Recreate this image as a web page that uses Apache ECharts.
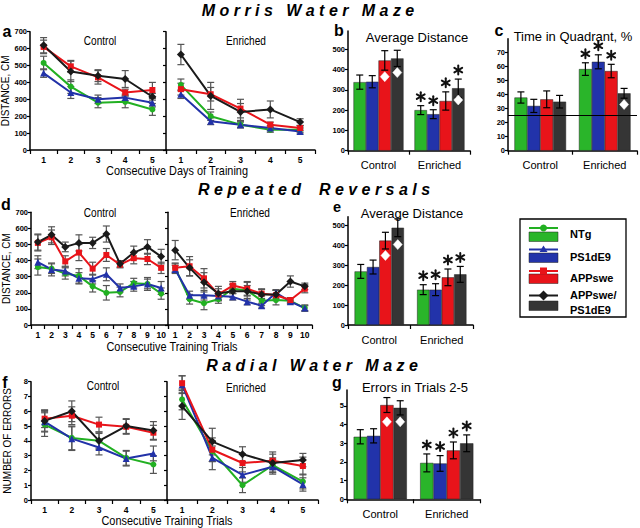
<!DOCTYPE html>
<html><head><meta charset="utf-8">
<script src="https://cdn.jsdelivr.net/npm/echarts@6/dist/echarts.min.js"></script>
<style>html,body{margin:0;padding:0;background:#fff}#c{width:640px;height:528px}</style>
</head><body><div id="c"></div>
<script>
// ---------- data ----------
const groupNames = ['NTg', 'PS1dE9', 'APPswe', 'APPswe/PS1dE9'];
const conditions = ['Control', 'Enriched'];
const daysA = ['1', '2', '3', '4', '5'];
const trialsD = ['1', '2', '3', '4', '5', '6', '7', '8', '9', '10'];
const trialsF = ['1', '2', '3', '4', '5'];

// panel a (rows: NTg, PS1dE9, APPswe, APPswe/PS1dE9)
const aCtrlMean = [[515, 375, 280, 285, 240], [455, 340, 300, 310, 280], [610, 495, 430, 340, 355], [620, 465, 440, 420, 315]];
const aCtrlErr  = [[40, 40, 30, 35, 35], [25, 35, 25, 20, 25], [40, 35, 40, 20, 45], [45, 60, 35, 50, 20]];
const aEnrMean  = [[385, 200, 150, 120, 120], [330, 170, 150, 130, 110], [360, 330, 245, 150, 130], [565, 320, 225, 240, 165]];
const aEnrErr   = [[35, 25, 20, 15, 15], [25, 20, 15, 15, 15], [35, 40, 55, 15, 15], [60, 80, 50, 50, 20]];

// panel b (per group: [Control, Enriched])
const bMean = [[338, 200], [340, 180], [445, 245], [455, 308]];
const bErr  = [[35, 22], [30, 22], [48, 45], [40, 45]];
const bStar = [[0, 1], [0, 1], [0, 1], [0, 1]];
const bDiamond = [[0, 2, 365], [0, 3, 385], [1, 3, 250]]; // [condition, group, value]

// panel c
const cMean = [[38, 58.3], [32, 63.5], [36.7, 56.9], [35, 41]];
const cErr  = [[4, 4.5], [4.7, 5], [6, 4.8], [4.5, 3.5]];
const cStar = [[0, 1], [0, 1], [0, 1], [0, 0]];
const cDiamond = [[1, 3, 33]];
const chanceLevel = 25;

// panel d
const dCtrlMean = [[360, 350, 320, 305, 240, 200, 205, 260, 255, 195],
                   [390, 345, 335, 290, 285, 315, 230, 240, 255, 230],
                   [510, 545, 395, 450, 350, 435, 375, 415, 410, 355],
                   [515, 560, 485, 510, 510, 565, 380, 450, 485, 425]];
const dCtrlErr  = [[50, 30, 35, 45, 35, 45, 30, 30, 30, 35],
                   [40, 40, 30, 35, 30, 40, 25, 30, 40, 40],
                   [50, 45, 35, 50, 40, 40, 20, 35, 35, 35],
                   [50, 50, 30, 50, 35, 50, 20, 40, 45, 45]];
const dEnrMean  = [[355, 160, 135, 160, 225, 215, 150, 155, 150, 105],
                   [345, 185, 185, 180, 175, 145, 120, 200, 145, 105],
                   [355, 365, 290, 190, 245, 225, 195, 185, 155, 225],
                   [465, 355, 265, 195, 210, 210, 190, 190, 270, 240]];
const dEnrErr   = [[25, 30, 40, 25, 30, 30, 30, 30, 20, 15],
                   [25, 25, 30, 25, 20, 20, 15, 20, 10, 20],
                   [30, 60, 60, 35, 25, 45, 30, 30, 15, 25],
                   [60, 50, 60, 45, 40, 55, 30, 25, 35, 20]];

// panel e
const eMean = [[270, 178], [292, 178], [425, 240], [490, 255]];
const eErr  = [[35, 25], [35, 30], [42, 42], [45, 40]];
const eStar = [[0, 1], [0, 1], [0, 1], [0, 1]];
const eDiamond = [[0, 2, 350], [0, 3, 405]];

// panel f
const fCtrlMean = [[5.1, 4.2, 4.0, 2.85, 2.4], [5.3, 4.15, 3.55, 2.8, 3.15], [5.5, 5.7, 5.1, 4.95, 4.55], [5.35, 6.0, 4.0, 5.0, 4.7]];
const fCtrlErr  = [[0.8, 0.8, 0.6, 0.5, 0.6], [0.7, 0.8, 0.5, 0.5, 0.5], [0.6, 0.6, 0.5, 0.5, 0.5], [0.7, 0.7, 0.5, 0.5, 0.6]];
const fEnrMean  = [[6.8, 3.3, 1.0, 2.35, 1.25], [7.8, 2.85, 1.7, 2.25, 1.05], [7.9, 3.4, 2.5, 2.65, 2.3], [6.35, 3.95, 3.1, 2.5, 2.7]];
const fEnrErr   = [[0.7, 0.7, 0.5, 0.5, 0.5], [0.6, 0.8, 0.5, 0.5, 0.45], [0.5, 0.8, 0.6, 0.6, 0.6], [0.9, 0.9, 0.5, 0.6, 0.45]];

// panel g
const gMean = [[3.35, 1.95], [3.4, 1.92], [5.05, 2.62], [4.9, 3.0]];
const gErr  = [[0.38, 0.48], [0.38, 0.42], [0.4, 0.45], [0.38, 0.45]];
const gStar = [[0, 1], [0, 1], [0, 1], [0, 1]];
const gDiamond = [[0, 2, 4.15], [0, 3, 4.15]];

// ---------- styles ----------
const LINE_COLORS = ['#22b022', '#2232a8', '#e8141a', '#1a1a1a'];
const BAR_COLORS = ['#2ab52a', '#2233aa', '#e8141a', '#353535'];
const SYMBOLS = ['circle', 'triangle', 'rect', 'diamond'];
const SYMSIZE = [6, 7, 6, 8];
const FONT = '"Liberation Sans", Arial, sans-serif';

const grids = [
  {left: 30, top: 31.7, width: 136, height: 118.3},   // 0 a ctrl
  {left: 166, top: 31.7, width: 149, height: 118.3},  // 1 a enr
  {left: 348, top: 31, width: 122, height: 119.7},    // 2 b
  {left: 508, top: 38.7, width: 129, height: 112},    // 3 c
  {left: 31, top: 212.3, width: 137, height: 112.7},  // 4 d ctrl
  {left: 168, top: 212.3, width: 144, height: 112.7}, // 5 d enr
  {left: 348, top: 216.8, width: 125, height: 108.2}, // 6 e
  {left: 31, top: 381.7, width: 136, height: 118.3},  // 7 f ctrl
  {left: 167, top: 381.7, width: 151, height: 118.3}, // 8 f enr
  {left: 347, top: 390.1, width: 133, height: 109.2}  // 9 g
].map(g => Object.assign({containLabel: false, outerBoundsMode: 'none'}, g));

function xCat(gi, data, isBar) {
  return {
    type: 'category', gridIndex: gi, data: data, boundaryGap: true,
    axisLine: {show: true, onZero: false, lineStyle: {color: '#000', width: 1.5}},
    axisTick: {show: true, length: 4, interval: 0, lineStyle: {color: '#000', width: 1.2}},
    axisLabel: isBar
      ? {show: true, color: '#000', fontSize: 11, fontFamily: FONT, margin: 9, interval: 0}
      : {show: true, color: '#000', fontSize: 8.5, fontWeight: 'bold', fontFamily: FONT, margin: 5, interval: 0},
    splitLine: {show: false}
  };
}
function yVal(gi, max, interval, showLabels, name, hideMax) {
  return {
    type: 'value', gridIndex: gi, min: 0, max: max, interval: interval,
    name: name || '', nameLocation: 'middle', nameGap: 19, nameRotate: 90,
    nameTextStyle: {color: '#000', fontSize: 10, fontFamily: FONT},
    axisLine: {show: true, onZero: false, lineStyle: {color: '#000', width: 1.5}},
    axisTick: {show: true, length: 3, lineStyle: {color: '#000', width: 1.2}},
    axisLabel: {show: showLabels, color: '#000', fontSize: 7.5, fontWeight: 'bold', fontFamily: FONT, margin: 3,
                showMaxLabel: !hideMax},
    splitLine: {show: false}
  };
}

const xAxes = [
  xCat(0, daysA), xCat(1, daysA), xCat(2, conditions, true), xCat(3, conditions, true),
  xCat(4, trialsD), xCat(5, trialsD), xCat(6, conditions, true),
  xCat(7, trialsF), xCat(8, trialsF), xCat(9, conditions, true)
];
const yAxes = [
  yVal(0, 700, 100, true, 'DISTANCE, CM'), yVal(1, 700, 100, false),
  yVal(2, 590, 100, true, '', true), yVal(3, 80, 10, true, '', true),
  yVal(4, 700, 100, true, 'DISTANCE, CM'), yVal(5, 700, 100, false),
  yVal(6, 545, 100, true, '', true),
  yVal(7, 8, 1, true, 'NUMBER OF ERRORS'), yVal(8, 8, 1, false),
  yVal(9, 5.85, 1, true, '', true)
];

const series = [];
function lineErr(params, api) {
  const x = api.value(0), m = api.value(1), e = api.value(2);
  const t = api.coord([x, m + e]), b = api.coord([x, m - e]);
  const w = 3.5, st = {stroke: '#555', lineWidth: 1.2};
  return {type: 'group', children: [
    {type: 'line', shape: {x1: t[0], y1: t[1], x2: b[0], y2: b[1]}, style: st},
    {type: 'line', shape: {x1: t[0] - w, y1: t[1], x2: t[0] + w, y2: t[1]}, style: st},
    {type: 'line', shape: {x1: b[0] - w, y1: b[1], x2: b[0] + w, y2: b[1]}, style: st}
  ]};
}
function addLinePanel(gi, means, errs) {
  means.forEach((m, k) => {
    series.push({type: 'custom', xAxisIndex: gi, yAxisIndex: gi, z: 2, silent: true,
      data: m.map((v, i) => [i, v, errs[k][i]]), renderItem: lineErr});
  });
  means.forEach((m, k) => {
    series.push({type: 'line', name: groupNames[k], xAxisIndex: gi, yAxisIndex: gi, z: 3,
      data: m, symbol: SYMBOLS[k], symbolSize: SYMSIZE[k], showSymbol: true,
      lineStyle: {color: LINE_COLORS[k], width: 2}, itemStyle: {color: LINE_COLORS[k]}});
  });
}
function star(cx, cy) {
  const r = 4.5, st = {stroke: '#111', lineWidth: 2, lineCap: 'round'};
  const out = [];
  for (let a = 0; a < 3; a++) {
    const ang = Math.PI / 2 + a * Math.PI / 3;
    const dx = r * Math.cos(ang), dy = r * Math.sin(ang);
    out.push({type: 'line', shape: {x1: cx - dx, y1: cy - dy, x2: cx + dx, y2: cy + dy}, style: st});
  }
  return out;
}
function addBarPanel(gi, means, errs, stars, diamonds, gap, markLine) {
  means.forEach((m, k) => {
    const s = {type: 'bar', name: groupNames[k], xAxisIndex: gi, yAxisIndex: gi, data: m, z: 2,
      barGap: '0%', barCategoryGap: (gap * 100) + '%',
      itemStyle: {color: BAR_COLORS[k], borderColor: '#222', borderWidth: 0.5}};
    if (k === 0 && markLine) s.markLine = markLine;
    series.push(s);
  });
  means.forEach((m, k) => {
    series.push({type: 'custom', xAxisIndex: gi, yAxisIndex: gi, z: 5, silent: true,
      data: m.map((v, g) => [g, v, errs[k][g], stars[k][g]]),
      renderItem: function (params, api) {
        const g = api.value(0), mv = api.value(1), e = api.value(2), s = api.value(3);
        const band = api.size([1, 0])[0];
        const bw = band * (1 - gap) / 4;
        const cx = api.coord([g, mv])[0] + (k - 1.5) * bw;
        const yt = api.coord([g, mv + e])[1], yb = api.coord([g, mv - e])[1];
        const w = 3.5, st = {stroke: '#000', lineWidth: 1.2};
        let ch = [
          {type: 'line', shape: {x1: cx, y1: yt, x2: cx, y2: yb}, style: st},
          {type: 'line', shape: {x1: cx - w, y1: yt, x2: cx + w, y2: yt}, style: st},
          {type: 'line', shape: {x1: cx - w, y1: yb, x2: cx + w, y2: yb}, style: st}
        ];
        if (s) ch = ch.concat(star(cx, yt - 9));
        return {type: 'group', children: ch};
      }});
  });
  series.push({type: 'custom', xAxisIndex: gi, yAxisIndex: gi, z: 6, silent: true,
    data: diamonds.map(d => [d[0], d[2], d[1]]),
    renderItem: function (params, api) {
      const g = api.value(0), v = api.value(1), k = api.value(2);
      const band = api.size([1, 0])[0];
      const bw = band * (1 - gap) / 4;
      const p = api.coord([g, v]);
      const cx = p[0] + (k - 1.5) * bw, cy = p[1];
      return {type: 'polygon', shape: {points: [[cx, cy - 5], [cx + 4.5, cy], [cx, cy + 5], [cx - 4.5, cy]]},
        style: {fill: '#fff', stroke: '#fff', lineWidth: 0.5}};
    }});
}

addLinePanel(0, aCtrlMean, aCtrlErr);
addLinePanel(1, aEnrMean, aEnrErr);
addBarPanel(2, bMean, bErr, bStar, bDiamond, 0.18);
addBarPanel(3, cMean, cErr, cStar, cDiamond, 0.2, {
  silent: true, symbol: 'none', label: {show: false},
  lineStyle: {color: '#000', width: 1.2, type: 'solid'}, data: [{yAxis: chanceLevel}]
});
addLinePanel(4, dCtrlMean, dCtrlErr);
addLinePanel(5, dEnrMean, dEnrErr);
addBarPanel(6, eMean, eErr, eStar, eDiamond, 0.21);
addLinePanel(7, fCtrlMean, fCtrlErr);
addLinePanel(8, fEnrMean, fEnrErr);
addBarPanel(9, gMean, gErr, gStar, gDiamond, 0.2);

// ---------- texts ----------
function txt(text, x, y, size, opts) {
  opts = opts || {};
  return {type: 'text', x: x, y: y, silent: true, z: 10, scaleX: opts.sx || 1,
    style: {text: text, fill: '#000', fontSize: size, fontFamily: FONT,
      fontWeight: opts.weight || 'normal', fontStyle: opts.style || 'normal',
      align: opts.align || 'center', verticalAlign: 'middle'}};
}
const secOpts = {weight: 'bold', style: 'italic'};
const nar = {sx: 0.84};
const graphics = [
  txt('M o r r i s   W a t e r   M a z e', 308, 10, 16, secOpts),
  txt('R e p e a t e d    R e v e r s a l s', 314, 189.5, 16, secOpts),
  txt('R a d i a l   W a t e r   M a z e', 312, 365, 16, secOpts),
  txt('a', 7, 31, 16, {weight: 'bold'}),
  txt('b', 339, 30, 16, {weight: 'bold'}),
  txt('c', 499, 30, 16, {weight: 'bold'}),
  txt('d', 6, 204, 16, {weight: 'bold'}),
  txt('e', 337, 206.5, 14.5, {weight: 'bold'}),
  txt('f', 5, 382, 16, {weight: 'bold'}),
  txt('g', 337, 382, 16, {weight: 'bold'}),
  txt('Control', 100, 41, 12, nar),
  txt('Enriched', 246, 41, 12, nar),
  txt('Control', 100, 213, 12, nar),
  txt('Enriched', 250, 213, 12, nar),
  txt('Control', 103, 386, 12, nar),
  txt('Enriched', 246, 388, 12, nar),
  txt('Consecutive Days of Training', 177, 171, 13, nar),
  txt('Consecutive Training Trials', 172, 346.5, 13, nar),
  txt('Consecutive Training Trials', 167, 521, 13, nar),
  txt('Average Distance', 417, 37, 13),
  txt('Time in Quadrant, %', 573, 36, 13),
  txt('Average Distance', 412, 213, 13),
  txt('Errors in Trials 2-5', 415, 387, 13)
];

// legend box
graphics.push({type: 'rect', shape: {x: 520, y: 219, width: 106, height: 98}, silent: true, z: 10,
  style: {fill: '#fff', stroke: '#000', lineWidth: 1.3}});
const legLineY = [228, 249.5, 271, 295.5];
const legPatchY = [232, 253, 274, 301];
groupNames.forEach((n, k) => {
  const x0 = 529, x1 = 558, cx = (x0 + x1) / 2, y = legLineY[k];
  graphics.push({type: 'rect', z: 11, silent: true, shape: {x: x0, y: legPatchY[k], width: x1 - x0, height: 9.5},
    style: {fill: BAR_COLORS[k], stroke: '#222', lineWidth: 0.5}});
  graphics.push({type: 'line', z: 11, silent: true, shape: {x1: x0, y1: y, x2: x1, y2: y},
    style: {stroke: LINE_COLORS[k], lineWidth: 2}});
  let mk;
  if (k === 0) mk = {type: 'circle', shape: {cx: cx, cy: y, r: 3.5}};
  else if (k === 1) mk = {type: 'polygon', shape: {points: [[cx, y - 4], [cx + 4, y + 2.5], [cx - 4, y + 2.5]]}};
  else if (k === 2) mk = {type: 'rect', shape: {x: cx - 3.5, y: y - 3.5, width: 7, height: 7}};
  else mk = {type: 'polygon', shape: {points: [[cx, y - 5], [cx + 5, y], [cx, y + 5], [cx - 5, y]]}};
  mk.z = 12; mk.silent = true; mk.style = {fill: LINE_COLORS[k]};
  graphics.push(mk);
});
graphics.push(txt('NTg', 570, 234, 11, {weight: 'bold', align: 'left'}));
graphics.push(txt('PS1dE9', 570, 256.5, 11, {weight: 'bold', align: 'left'}));
graphics.push(txt('APPswe', 570, 278, 11, {weight: 'bold', align: 'left'}));
graphics.push(txt('APPswe/', 570, 295, 11, {weight: 'bold', align: 'left'}));
graphics.push(txt('PS1dE9', 570, 310, 11, {weight: 'bold', align: 'left'}));

const chart = echarts.init(document.getElementById('c'), null, {renderer: 'svg'});
chart.setOption({
  backgroundColor: '#fff',
  animation: false,
  grid: grids,
  xAxis: xAxes,
  yAxis: yAxes,
  series: series,
  graphic: {elements: graphics}
});
</script>
</body></html>
